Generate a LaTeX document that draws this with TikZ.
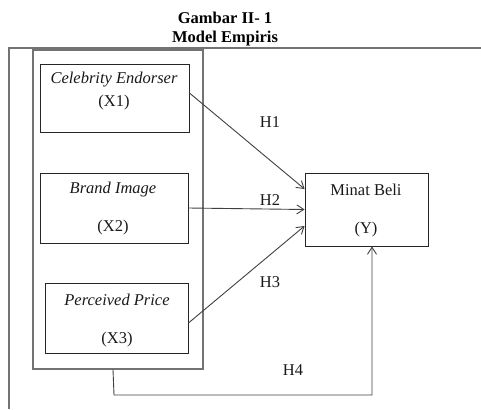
\documentclass[tikz,border=0pt]{standalone}
\usepackage{fontspec}
\setmainfont{Liberation Serif}
\usetikzlibrary{arrows.meta,fit}
\begin{document}
\begin{tikzpicture}[x=1pt,y=-1pt,
  frame/.style={draw=black!55, line width=1.1pt},
  box/.style={draw=black!85, line width=0.9pt, inner sep=0pt},
  txt/.style={inner sep=0pt, font=\fontsize{16.5}{19}\selectfont, text=black!90},
  ttl/.style={inner sep=0pt, font=\fontsize{16.5}{19}\selectfont\bfseries},
  arr/.style={draw=black!75, line width=0.9pt, -{Straight Barb[length=7pt,width=9pt]}}]
\useasboundingbox (0,0) rectangle (481,409);
% title
\node[ttl] (t1) at (225,18) {Gambar II- 1};
\node[ttl] (t2) at (225,39) {Model Empiris};
% outer open frame
\draw[frame] (9,409) -- (9,48) -- (481,48);
% left group box
\node[fit={(33,50)(203,369)}, frame, inner sep=0pt] (lb) {};
% boxes
\node[fit={(40,64)(189,132)}, box] (x1) {};
\node[fit={(40,173)(188,243)}, box] (x2) {};
\node[fit={(45,283)(188,353)}, box] (x3) {};
\node[fit={(305,173)(428,246)}, box] (y) {};
% texts
\node[txt] (x1a) at (114,80) {\itshape Celebrity Endorser};
\node[txt] (x1b) at (114,103) {(X1)};
\node[txt] (x2a) at (113,190) {\itshape Brand Image};
\node[txt] (x2b) at (113,228) {(X2)};
\node[txt] (x3a) at (117,300) {\itshape Perceived Price};
\node[txt] (x3b) at (117,340) {(X3)};
\node[txt] (ya) at (366,190) {Minat Beli};
\node[txt] (yb) at (366,230) {(Y)};
% labels
\node[txt] (h1) at (270,122) {H1};
\node[txt] (h2) at (270,200) {H2};
\node[txt] (h3) at (270,282) {H3};
\node[txt] (h4) at (293,370) {H4};
% arrows
\draw[arr] ([yshift=5pt]x1.east) -- ([yshift=20.5pt]y.west);
\draw[arr] (x2.east) -- (y.west);
\draw[arr] ([yshift=-5pt]x3.east) -- ([yshift=-16.5pt]y.west);
\coordinate (c4) at (114,395);
\draw[arr] ([xshift=-5pt]lb.south) -- (c4) -| ([xshift=5.5pt]y.south);
\end{tikzpicture}
\end{document}
